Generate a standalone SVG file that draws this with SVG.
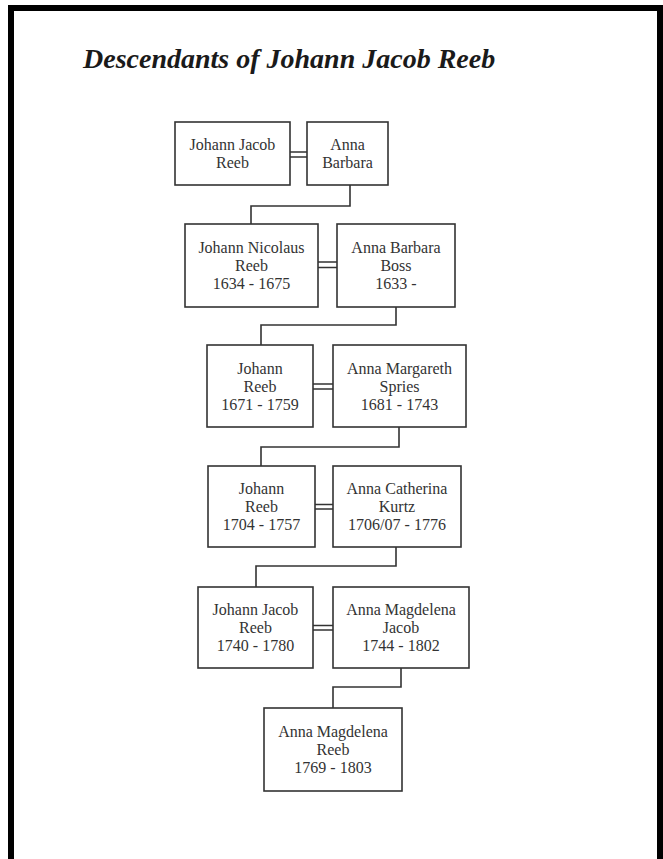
<svg xmlns="http://www.w3.org/2000/svg" width="663" height="859" viewBox="0 0 663 859">
<style>
.box{fill:#fff;stroke:#333;stroke-width:1.6}
.lbl{font-family:"Liberation Serif","Times New Roman",serif;font-size:16px;fill:#333;text-anchor:middle}
.con{fill:none;stroke:#333;stroke-width:1.6}
.title{font-family:"Liberation Serif","Times New Roman",serif;font-size:28px;font-weight:bold;font-style:italic;fill:#1a1a1a}
</style>
<rect width="663" height="859" fill="#fff"/>
<path d="M11,859 V8 H660 V859" fill="none" stroke="#000" stroke-width="6"/>
<text class="title" x="83" y="68">Descendants of Johann Jacob Reeb</text>
<g id="connectors">
<path class="con" d="M350,185 V206 H251 V224"/>
<path class="con" d="M396,307 V325 H261 V345"/>
<path class="con" d="M399,427 V447 H261 V466"/>
<path class="con" d="M396,547 V566 H256 V587"/>
<path class="con" d="M401,668 V687 H333 V708"/>
<path class="con" d="M290,152 H307 M290,157 H307"/>
<path class="con" d="M318,262 H337 M318,267.5 H337"/>
<path class="con" d="M313,384 H333 M313,389 H333"/>
<path class="con" d="M315,504.5 H333 M315,509 H333"/>
<path class="con" d="M313,625.5 H333 M313,630 H333"/>
</g>
<g id="n1"><rect class="box" x="175" y="122" width="115" height="63"/><text class="lbl" x="232.5" y="150">Johann Jacob</text><text class="lbl" x="232.5" y="168">Reeb</text></g>
<g id="n2"><rect class="box" x="307" y="122" width="81" height="63"/><text class="lbl" x="347.5" y="150">Anna</text><text class="lbl" x="347.5" y="168">Barbara</text></g>
<g id="n3"><rect class="box" x="185" y="224" width="133" height="83"/><text class="lbl" x="251.5" y="253">Johann Nicolaus</text><text class="lbl" x="251.5" y="271">Reeb</text><text class="lbl" x="251.5" y="289">1634 - 1675</text></g>
<g id="n4"><rect class="box" x="337" y="224" width="118" height="83"/><text class="lbl" x="396" y="253">Anna Barbara</text><text class="lbl" x="396" y="271">Boss</text><text class="lbl" x="396" y="289">1633 -</text></g>
<g id="n5"><rect class="box" x="207" y="345" width="106" height="82"/><text class="lbl" x="260" y="374">Johann</text><text class="lbl" x="260" y="392">Reeb</text><text class="lbl" x="260" y="410">1671 - 1759</text></g>
<g id="n6"><rect class="box" x="333" y="345" width="133" height="82"/><text class="lbl" x="399.5" y="374">Anna Margareth</text><text class="lbl" x="399.5" y="392">Spries</text><text class="lbl" x="399.5" y="410">1681 - 1743</text></g>
<g id="n7"><rect class="box" x="208" y="466" width="107" height="81"/><text class="lbl" x="261.5" y="494">Johann</text><text class="lbl" x="261.5" y="512">Reeb</text><text class="lbl" x="261.5" y="530">1704 - 1757</text></g>
<g id="n8"><rect class="box" x="333" y="466" width="128" height="81"/><text class="lbl" x="397" y="494">Anna Catherina</text><text class="lbl" x="397" y="512">Kurtz</text><text class="lbl" x="397" y="530">1706/07 - 1776</text></g>
<g id="n9"><rect class="box" x="198" y="587" width="115" height="81"/><text class="lbl" x="255.5" y="615">Johann Jacob</text><text class="lbl" x="255.5" y="633">Reeb</text><text class="lbl" x="255.5" y="651">1740 - 1780</text></g>
<g id="n10"><rect class="box" x="333" y="587" width="136" height="81"/><text class="lbl" x="401" y="615">Anna Magdelena</text><text class="lbl" x="401" y="633">Jacob</text><text class="lbl" x="401" y="651">1744 - 1802</text></g>
<g id="n11"><rect class="box" x="264" y="708" width="138" height="83"/><text class="lbl" x="333" y="737">Anna Magdelena</text><text class="lbl" x="333" y="755">Reeb</text><text class="lbl" x="333" y="773">1769 - 1803</text></g>
</svg>
